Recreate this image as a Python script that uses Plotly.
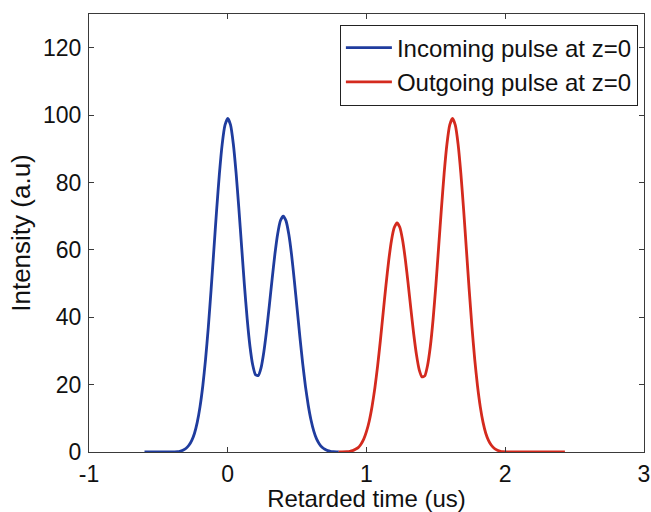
import plotly.graph_objects as go

# Incoming pulse (blue)
t_in = [-0.60, -0.36, -0.34, -0.32, -0.30, -0.28, -0.26, -0.24, -0.22, -0.20,
        -0.18, -0.16, -0.14, -0.12, -0.10, -0.08, -0.06, -0.04, -0.02, 0.00,
        0.02, 0.04, 0.06, 0.08, 0.10, 0.12, 0.14, 0.16, 0.18, 0.20,
        0.22, 0.24, 0.26, 0.28, 0.30, 0.32, 0.34, 0.36, 0.38, 0.40,
        0.42, 0.44, 0.46, 0.48, 0.50, 0.52, 0.54, 0.56, 0.58, 0.60,
        0.62, 0.64, 0.66, 0.68, 0.70, 0.72, 0.74, 0.76, 0.80]
i_in = [0, 0.1, 0.3, 0.6, 1.1, 2.0, 3.4, 5.5, 8.8, 13.4,
        19.6, 27.5, 37.1, 48.2, 60.1, 71.9, 82.7, 91.4, 97.0, 99.0,
        97.1, 91.5, 82.9, 72.3, 60.9, 49.6, 39.5, 31.4, 25.8, 22.9,
        22.7, 25.0, 29.7, 36.1, 43.6, 51.4, 58.8, 64.8, 68.7, 70.0,
        68.6, 64.6, 58.5, 50.8, 42.5, 34.1, 26.3, 19.5, 13.9, 9.5,
        6.2, 3.9, 2.4, 1.4, 0.8, 0.4, 0.2, 0.1, 0]

# Outgoing pulse (red)
t_out = [0.80, 0.86, 0.88, 0.90, 0.92, 0.94, 0.96, 0.98, 1.00, 1.02,
         1.04, 1.06, 1.08, 1.10, 1.12, 1.14, 1.16, 1.18, 1.20, 1.22,
         1.24, 1.26, 1.28, 1.30, 1.32, 1.34, 1.36, 1.38, 1.40, 1.42,
         1.44, 1.46, 1.48, 1.50, 1.52, 1.54, 1.56, 1.58, 1.60, 1.62,
         1.64, 1.66, 1.68, 1.70, 1.72, 1.74, 1.76, 1.78, 1.80, 1.82,
         1.84, 1.86, 1.88, 1.90, 1.92, 1.94, 1.96, 1.98, 2.43]
i_out = [0, 0.1, 0.2, 0.4, 0.8, 1.3, 2.3, 3.8, 6.1, 9.2,
         13.5, 18.9, 25.5, 33.1, 41.3, 49.4, 56.8, 62.8, 66.6, 68.0,
         66.7, 62.9, 57.1, 50.0, 42.4, 35.1, 28.9, 24.4, 22.3, 22.6,
         25.7, 31.3, 39.4, 49.5, 60.9, 72.3, 82.9, 91.5, 97.1, 99.0,
         97.0, 91.4, 82.7, 71.9, 60.1, 48.2, 37.1, 27.5, 19.6, 13.4,
         8.8, 5.5, 3.4, 2.0, 1.1, 0.6, 0.3, 0.1, 0]

series_names = ["Incoming pulse at z=0", "Outgoing pulse at z=0"]
x_ticks = [-1, 0, 1, 2, 3]
x_tick_labels = ["-1", "0", "1", "2", "3"]
y_ticks = [0, 20, 40, 60, 80, 100, 120]

FONT = "Liberation Sans, Arial, sans-serif"
AX = "#3a3a3a"

fig = go.Figure()
fig.add_trace(go.Scatter(x=t_in, y=i_in, mode="lines", name=series_names[0],
                         line=dict(color="#1f3c9e", width=2.8, shape="spline", smoothing=0.5)))
fig.add_trace(go.Scatter(x=t_out, y=i_out, mode="lines", name=series_names[1],
                         line=dict(color="#d42a1e", width=2.8, shape="spline", smoothing=0.5)))

axis_common = dict(showgrid=False, zeroline=False, showline=True, linecolor=AX,
                   linewidth=1, mirror="ticks", ticks="inside", ticklen=5,
                   tickcolor=AX, tickfont=dict(family=FONT, size=23, color="#111"))

fig.update_xaxes(range=[-1, 3], tickvals=x_ticks, ticktext=x_tick_labels, ticklabelstandoff=1,
                 title=dict(text="Retarded time (us)", font=dict(family=FONT, size=24, color="#111"),
                            standoff=2),
                 **axis_common)
fig.update_yaxes(range=[0, 130], tickvals=y_ticks, ticklabelstandoff=2,
                 title=dict(text="Intensity (a.u)", font=dict(family=FONT, size=26, color="#111"),
                            standoff=4),
                 **axis_common)

fig.update_layout(
    width=651, height=512,
    margin=dict(l=89, r=7, t=14, b=60, autoexpand=False),
    paper_bgcolor="white", plot_bgcolor="white",
    font=dict(family=FONT, color="#111"),
    legend=dict(x=0.989, y=0.976, xanchor="right", yanchor="top",
                bgcolor="white", bordercolor="#222", borderwidth=1,
                font=dict(family=FONT, size=24, color="#111"),
                tracegroupgap=0, itemwidth=46),
    showlegend=True,
)

fig.write_html("out.html")
